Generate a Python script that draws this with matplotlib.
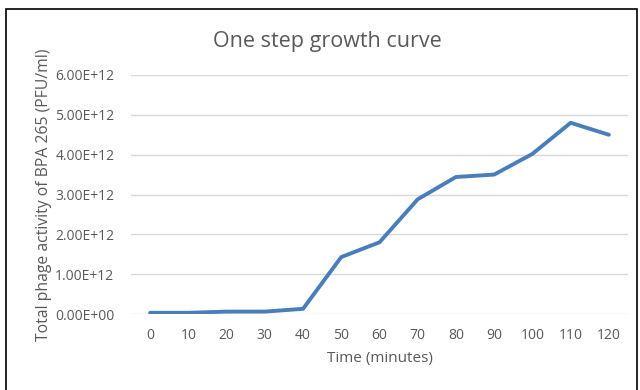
import matplotlib
matplotlib.use("Agg")
import matplotlib.pyplot as plt
from matplotlib.patches import Rectangle
from matplotlib.ticker import FuncFormatter

categories = ["0", "10", "20", "30", "40", "50", "60", "70", "80", "90", "100", "110", "120"]
values = [0.03e12, 0.03e12, 0.06e12, 0.06e12, 0.13e12, 1.43e12, 1.80e12, 2.88e12,
          3.44e12, 3.50e12, 4.02e12, 4.80e12, 4.50e12]
yticks = [0, 1e12, 2e12, 3e12, 4e12, 5e12, 6e12]

plt.rcParams['font.family'] = ['Open Sans', 'DejaVu Sans']
gray = '#595959'

fig = plt.figure(figsize=(6.4, 3.9), dpi=100)
ax = fig.add_axes([131/640, 1-314/390, (628-131)/640, (314-75)/390])

x = list(range(len(categories)))
ax.plot(x, values, color='#4a7ebb', lw=2.8, solid_capstyle='round', solid_joinstyle='round', zorder=3)

def fmt(v, p):
    s = f"{v:.2E}"
    if v == 0:
        s = "0.00E+00"
    return s

ax.set_xlim(-0.5, len(categories) - 0.5)
ax.set_ylim(0, 6e12)
ax.set_xticks(x)
ax.set_xticklabels(categories)
ax.set_yticks(yticks)
ax.yaxis.set_major_formatter(FuncFormatter(fmt))
ax.grid(axis='y', color='#d9d9d9', lw=1)
ax.set_axisbelow(True)
for s in ax.spines.values():
    s.set_visible(False)
ax.tick_params(length=0, colors=gray, labelsize=10)
ax.tick_params(axis='y', pad=12)
ax.tick_params(axis='x', pad=10)
ax.set_xlabel("Time (minutes)", color=gray, fontsize=11, labelpad=6)
ax.set_ylabel("Total phage activity of BPA 265 (PFU/ml)", color=gray, fontsize=11.3, labelpad=2)
fig.text(327/640, 1-42/390, "One step growth curve", ha='center', va='center', fontsize=15.5, color=gray)

fig.patches.append(Rectangle((6/640, -0.1), (637-6)/640, (1-9/390)+0.1, transform=fig.transFigure,
                             fill=False, edgecolor='black', lw=1.2))
fig.savefig("out.png", dpi=100)
